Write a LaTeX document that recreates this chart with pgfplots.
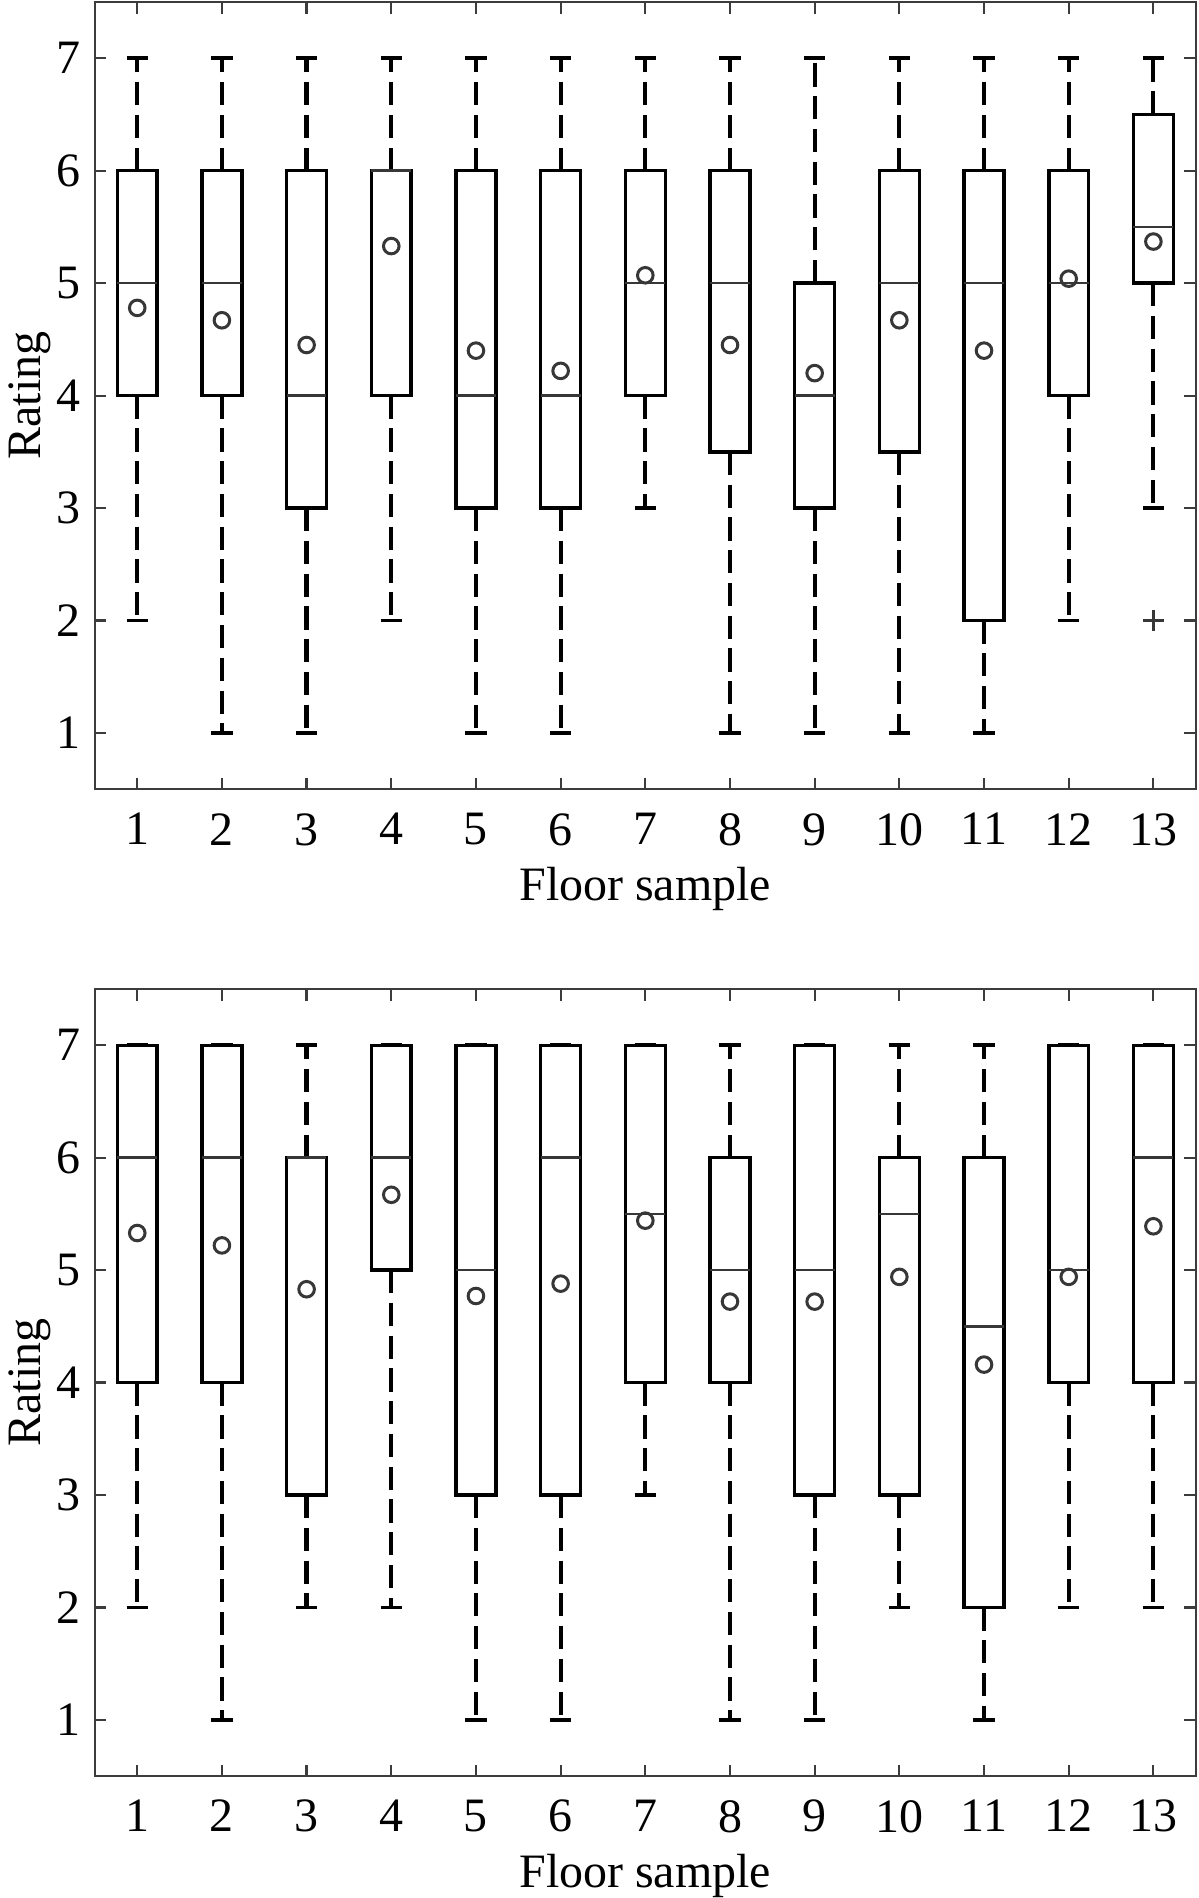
\documentclass[border=0pt]{standalone}
\usepackage{fontspec}
\setmainfont{Liberation Serif}
\usepackage{pgfplots}
\pgfplotsset{compat=1.18}
\usepgfplotslibrary{statistics}

\definecolor{medgray}{RGB}{55,55,55}
\definecolor{framegray}{RGB}{60,60,60}

% one box: position, lower whisker, q1, median, q3, upper whisker
\newcommand{\bx}[6]{%
  \addplot[boxplot prepared={draw position=#1, lower whisker=#2, lower quartile=#3,
    median=#4, upper quartile=#5, upper whisker=#6}] coordinates {};}

% dashed whisker, solid cap
\pgfplotsset{
  boxplot/draw/whisker/.code 2 args={%
    \draw[black, line width=1.05pt, dash pattern=on 5.8pt off 2.4pt]
      (boxplot cs:#1) -- (boxplot cs:#2);
    \draw[black, line width=0.9pt]
      (boxplot whisker cs:#2,0) -- (boxplot whisker cs:#2,1);
  },
}

\pgfplotsset{
  ratingbox/.style={
    scale only axis, width=275.5pt, height=197pt,
    xmin=0.5, xmax=13.5, ymin=0.5, ymax=7.5,
    xtick={1,...,13}, ytick={1,...,7},
    tick align=inside, major tick length=2.9pt,
    axis line style={framegray, line width=0.55pt},
    every tick/.style={framegray, line width=0.55pt},
    tick label style={font=\fontsize{12}{14}\selectfont},
    xticklabel style={yshift=-2.5pt},
    label style={font=\fontsize{12}{14}\selectfont},
    /pgf/number format/assume math mode=true,
    xlabel={Floor sample}, ylabel={Rating},
    xlabel style={at={(axis description cs:0.5,0)}, anchor=center, yshift=-25pt},
    ylabel style={at={(axis description cs:-0.059,0.5)}, anchor=center},
    boxplot/draw direction=y,
    boxplot/box extend=0.47,
    boxplot/whisker extend=0.25,
    boxplot/every box/.style={black, line width=0.85pt},
    boxplot/every median/.style={medgray, line width=0.62pt},
  },
  meanmarks/.style={only marks, mark=o, mark size=1.95pt,
    mark options={medgray, line width=0.75pt}},
}

\begin{document}
\begin{tikzpicture}
\begin{axis}[ratingbox, at={(0,0)}, anchor=south west]
\bx{1}{2}{4}{5}{6}{7}
\bx{2}{1}{4}{5}{6}{7}
\bx{3}{1}{3}{4}{6}{7}
\bx{4}{2}{4}{6}{6}{7}
\bx{5}{1}{3}{4}{6}{7}
\bx{6}{1}{3}{4}{6}{7}
\bx{7}{3}{4}{5}{6}{7}
\bx{8}{1}{3.5}{5}{6}{7}
\bx{9}{1}{3}{4}{5}{7}
\bx{10}{1}{3.5}{5}{6}{7}
\bx{11}{1}{2}{5}{6}{7}
\bx{12}{2}{4}{5}{6}{7}
\addplot[boxplot prepared={draw position=13, lower whisker=3, lower quartile=5,
    median=5.5, upper quartile=6.5, upper whisker=7},
  mark=+, mark size=2.6pt, mark options={medgray, line width=0.8pt}]
  coordinates {(0,2)};
\addplot[meanmarks] coordinates {
  (1,4.78) (2,4.67) (3,4.45) (4,5.33) (5,4.40) (6,4.22) (7,5.07)
  (8,4.45) (9,4.20) (10,4.67) (11,4.40) (12,5.04) (13,5.37)};
\end{axis}

\begin{axis}[ratingbox, at={(0,-247pt)}, anchor=south west]
\bx{1}{2}{4}{6}{7}{7}
\bx{2}{1}{4}{6}{7}{7}
\bx{3}{2}{3}{6}{6}{7}
\bx{4}{2}{5}{6}{7}{7}
\bx{5}{1}{3}{5}{7}{7}
\bx{6}{1}{3}{6}{7}{7}
\bx{7}{3}{4}{5.5}{7}{7}
\bx{8}{1}{4}{5}{6}{7}
\bx{9}{1}{3}{5}{7}{7}
\bx{10}{2}{3}{5.5}{6}{7}
\bx{11}{1}{2}{4.5}{6}{7}
\bx{12}{2}{4}{5}{7}{7}
\bx{13}{2}{4}{6}{7}{7}
\addplot[meanmarks] coordinates {
  (1,5.33) (2,5.22) (3,4.83) (4,5.67) (5,4.77) (6,4.88) (7,5.44)
  (8,4.72) (9,4.72) (10,4.94) (11,4.16) (12,4.94) (13,5.39)};
\end{axis}
\pgfresetboundingbox
\useasboundingbox (-23.75pt,-277.5pt) rectangle (276.25pt,197.5pt);
\end{tikzpicture}
\end{document}
